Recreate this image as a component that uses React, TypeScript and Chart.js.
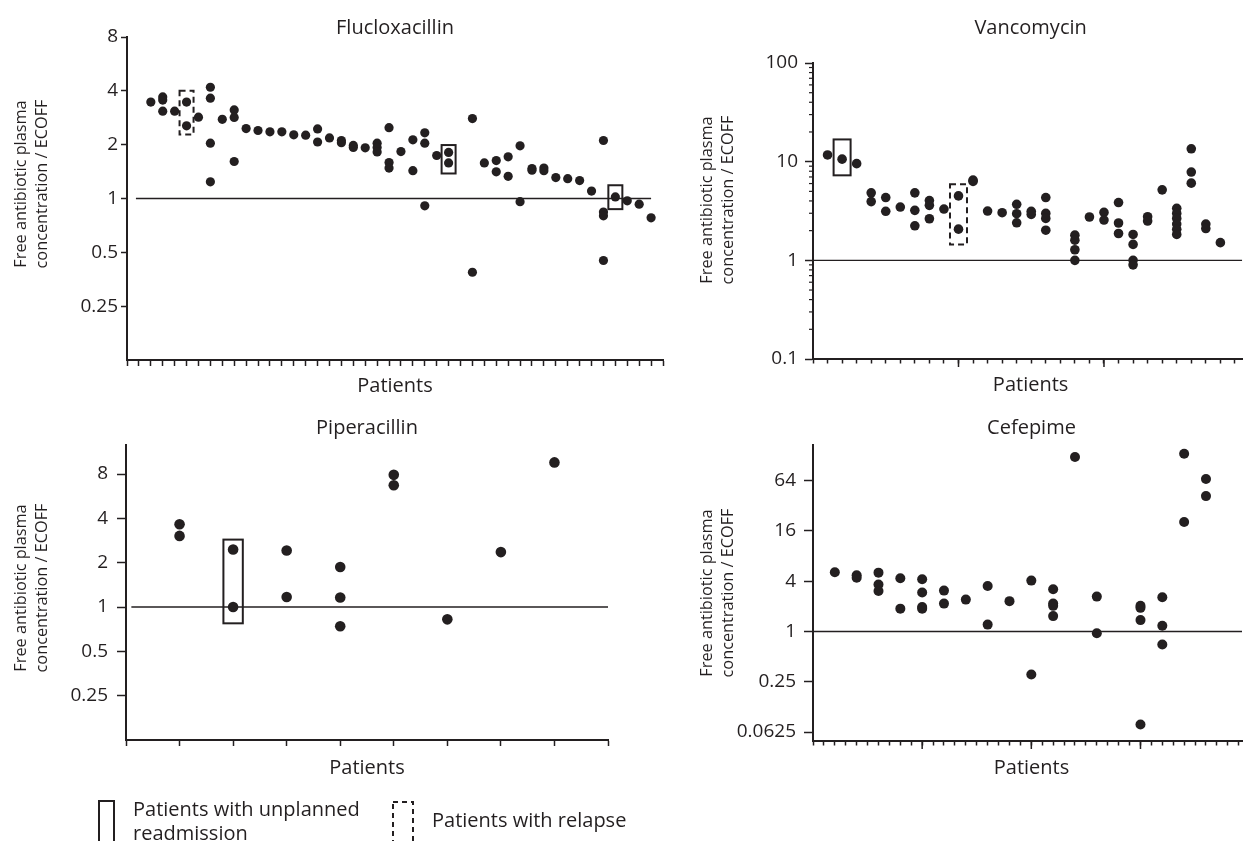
import React, { useEffect, useRef } from "react";
import { Chart, registerables } from "chart.js";

Chart.register(...registerables);

const FONT = "'Open Sans', 'Noto Sans', sans-serif";
const INK = "#231f20";

const Y_TITLE = ["Free antibiotic plasma", "concentration / ECOFF"];
const X_TITLE = "Patients";
const LEGEND_READMISSION = ["Patients with unplanned", "readmission"];
const LEGEND_RELAPSE = "Patients with relapse";

// ---------------- Flucloxacillin ----------------
const flucloxPatients = [
  2, 3, 4, 5, 6, 7, 8, 9, 10, 11, 12, 13, 14, 15, 16, 17, 18, 19, 20, 21, 22, 23, 24, 25, 26, 27,
  29, 30, 31, 32, 33, 34, 35, 36, 37, 38, 39, 40, 41, 42, 43, 44,
];
const flucloxValues = [
  [3.46], [3.7, 3.55, 3.08], [3.08], [3.46, 2.55], [2.85], [4.19, 3.64, 2.04, 1.24], [2.77],
  [3.13, 2.84, 1.61], [2.46], [2.4], [2.36], [2.36], [2.27], [2.26], [2.45, 2.07], [2.18],
  [2.11, 2.05], [1.98, 1.93], [1.92], [2.04, 1.93, 1.82], [2.49, 1.59, 1.48], [1.83], [2.13, 1.43],
  [2.33, 2.04, 0.91], [1.74], [1.81, 1.58],
  [2.8, 0.387], [1.58], [1.63, 1.41], [1.71, 1.33], [1.97, 0.96], [1.47, 1.44], [1.48, 1.43],
  [1.31], [1.29], [1.26], [1.1], [2.11, 0.84, 0.8, 0.45], [1.02], [0.97], [0.93], [0.78],
];
const flucloxTicks = [0.25, 0.5, 1, 2, 4, 8];
const flucloxReadmission = [
  { patient: 27, low: 1.38, high: 1.99 },
  { patient: 41, low: 0.872, high: 1.186 },
];
const flucloxRelapse = [{ patient: 5, low: 2.28, high: 4.0 }];

// ---------------- Vancomycin ----------------
const vancoPatients = [
  1, 2, 3, 4, 5, 6, 7, 8, 9, 10, 11, 12, 13, 14, 15, 16, 18, 19, 20, 21, 22, 23, 24, 25, 26, 27, 28,
];
const vancoValues = [
  [11.7], [10.6], [9.55], [4.83, 3.94], [4.33, 3.14], [3.47], [4.83, 3.21, 2.24],
  [4.03, 3.61, 2.64], [3.31], [4.5, 2.07], [6.5, 6.3], [3.16], [3.04], [3.7, 2.97, 2.4],
  [3.14, 2.92], [4.33, 2.99, 2.66, 2.02], [1.8, 1.6, 1.28, 1.0], [2.75], [3.06, 2.56],
  [3.85, 2.39, 1.87], [1.83, 1.45, 1.0, 0.9], [2.77, 2.5], [5.18],
  [3.37, 2.99, 2.66, 2.33, 2.06, 1.83], [13.5, 7.85, 6.06], [2.33, 2.1], [1.51],
];
const vancoTicks = [0.1, 1, 10, 100];
const vancoMinorTicks = [
  0.2, 0.3, 0.4, 0.5, 0.6, 0.7, 0.8, 0.9,
  2, 3, 4, 5, 6, 7, 8, 9,
  20, 30, 40, 50, 60, 70, 80, 90,
];
const vancoLongTicks = [10, 20];
const vancoReadmission = [{ patient: 2, low: 7.27, high: 16.8 }];
const vancoRelapse = [{ patient: 10, low: 1.45, high: 5.89 }];

// ---------------- Piperacillin ----------------
const pipPatients = [1, 2, 3, 4, 5, 6, 7, 8];
const pipValues = [
  [3.65, 3.04], [2.46, 1.0], [2.42, 1.17], [1.87, 1.16, 0.74], [7.9, 6.72], [0.825], [2.36], [9.6],
];
const pipTicks = [0.25, 0.5, 1, 2, 4, 8];
const pipReadmission = [{ patient: 2, low: 0.775, high: 2.87 }];

// ---------------- Cefepime ----------------
const cefepimePatients = [2, 4, 6, 8, 10, 12, 14, 16, 18, 20, 22, 24, 26, 30, 32, 34, 36];
const cefepimeValues = [
  [5.12], [4.72, 4.4], [5.07, 3.65, 3.06], [4.35, 1.88], [4.22, 2.93, 1.97, 1.88], [3.09, 2.16],
  [2.41], [3.51, 1.21], [2.31], [4.07, 0.306], [3.21, 2.16, 2.03, 1.53], [123], [2.62, 0.955],
  [2.03, 1.92, 1.37, 0.077], [2.57, 1.17, 0.7], [135, 20.5], [67.3, 41.9],
];
const cefepimeTicks = [0.0625, 0.25, 1, 4, 16, 64];
const cefepimeLongTicks = [10, 20, 30];

type Mark = { patient: number; low: number; high: number };

function toPoints(patients: number[], values: number[][]) {
  const pts: { x: number; y: number }[] = [];
  patients.forEach((p, i) => values[i].forEach((v) => pts.push({ x: p, y: v })));
  return pts;
}

interface PanelCfg {
  key: string;
  left: number; top: number; width: number; height: number;
  title: string;
  yAxisWidth: number; padTop: number; padRight: number; xAxisHeight: number;
  xMax: number; yMin: number; yMax: number; yTicks: number[];
  yTickLen: number; yTickPad: number; xTickLen: number; longLen: number;
  points: { x: number; y: number }[]; radius: number;
  refFrom: number; refTo: number;
  readmission: Mark[]; relapse: Mark[]; boxHalf: number;
  longTicks: number[]; minorY: number[];
  yTitleX: number; yTitleCy: number; titleDx: number; titleBaseline: number; xTitleDy: number;
  legend: boolean;
}

const panels: PanelCfg[] = [
  {
    key: "fluclox", left: 0, top: 0, width: 680, height: 400, title: "Flucloxacillin",
    yAxisWidth: 127, padTop: 37, padRight: 17, xAxisHeight: 40,
    xMax: 45, yMin: 0.125, yMax: 8, yTicks: flucloxTicks,
    yTickLen: 6, yTickPad: 3, xTickLen: 6, longLen: 8,
    points: toPoints(flucloxPatients, flucloxValues), radius: 4.6,
    refFrom: 0.75, refTo: 44,
    readmission: flucloxReadmission, relapse: flucloxRelapse, boxHalf: 7,
    longTicks: [], minorY: [],
    yTitleX: 21.7, yTitleCy: 184, titleDx: 0, titleBaseline: 34, xTitleDy: 32, legend: false,
  },
  {
    key: "vanco", left: 690, top: 0, width: 557, height: 400, title: "Vancomycin",
    yAxisWidth: 123, padTop: 63, padRight: 1, xAxisHeight: 41,
    xMax: 29.5, yMin: 0.1, yMax: 100, yTicks: vancoTicks,
    yTickLen: 8, yTickPad: 7, xTickLen: 4.5, longLen: 8,
    points: toPoints(vancoPatients, vancoValues), radius: 4.8,
    refFrom: 0, refTo: 29.5,
    readmission: vancoReadmission, relapse: vancoRelapse, boxHalf: 8.5,
    longTicks: vancoLongTicks, minorY: vancoMinorTicks,
    yTitleX: 17.7, yTitleCy: 200, titleDx: 3, titleBaseline: 34, xTitleDy: 32, legend: false,
  },
  {
    key: "pip", left: 0, top: 400, width: 680, height: 441, title: "Piperacillin",
    yAxisWidth: 126, padTop: 45, padRight: 72, xAxisHeight: 101,
    xMax: 9, yMin: 0.125, yMax: 12.6, yTicks: pipTicks,
    yTickLen: 9, yTickPad: 9, xTickLen: 6, longLen: 8,
    points: toPoints(pipPatients, pipValues), radius: 5.3,
    refFrom: 0.1, refTo: 9,
    readmission: pipReadmission, relapse: [], boxHalf: 9.7,
    longTicks: [], minorY: [],
    yTitleX: 21.7, yTitleCy: 188, titleDx: 0, titleBaseline: 34, xTitleDy: 34, legend: true,
  },
  {
    key: "cefepime", left: 690, top: 400, width: 557, height: 400, title: "Cefepime",
    yAxisWidth: 123, padTop: 45, padRight: 1, xAxisHeight: 59,
    xMax: 39.3, yMin: 0.0488, yMax: 171.5, yTicks: cefepimeTicks,
    yTickLen: 9, yTickPad: 8, xTickLen: 4.5, longLen: 8,
    points: toPoints(cefepimePatients, cefepimeValues), radius: 5,
    refFrom: 0, refTo: 39.3,
    readmission: [], relapse: [], boxHalf: 8,
    longTicks: cefepimeLongTicks, minorY: [],
    yTitleX: 17.7, yTitleCy: 193, titleDx: 4, titleBaseline: 34, xTitleDy: 33, legend: false,
  },
];

function makeDecor(cfg: PanelCfg) {
  return {
    id: "decor_" + cfg.key,
    afterDraw(chart: any) {
      const { ctx, chartArea: ca } = chart;
      const xs = chart.scales.x;
      const ys = chart.scales.y;
      ctx.save();
      ctx.fillStyle = INK;
      ctx.strokeStyle = INK;

      const cx = (ca.left + ca.right) / 2 + cfg.titleDx;
      ctx.font = `20px ${FONT}`;
      ctx.textAlign = "center";
      ctx.textBaseline = "alphabetic";
      ctx.fillText(cfg.title, cx, cfg.titleBaseline);
      ctx.fillText(X_TITLE, cx, ca.bottom + cfg.xTitleDy);

      ctx.font = `16.3px ${FONT}`;
      ctx.textBaseline = "middle";
      Y_TITLE.forEach((line, i) => {
        ctx.save();
        ctx.translate(cfg.yTitleX + i * 20.6, cfg.yTitleCy);
        ctx.rotate(-Math.PI / 2);
        ctx.fillText(line, 0, 0);
        ctx.restore();
      });

      ctx.lineWidth = 1.2;
      for (const v of cfg.minorY) {
        const y = ys.getPixelForValue(v);
        ctx.beginPath();
        ctx.moveTo(ca.left - 4, y);
        ctx.lineTo(ca.left, y);
        ctx.stroke();
      }
      ctx.lineWidth = 1.5;
      for (const v of cfg.longTicks) {
        const x = xs.getPixelForValue(v);
        ctx.beginPath();
        ctx.moveTo(x, ca.bottom);
        ctx.lineTo(x, ca.bottom + cfg.longLen);
        ctx.stroke();
      }

      const drawMark = (m: Mark, dashed: boolean) => {
        const xc = xs.getPixelForValue(m.patient);
        const y1 = ys.getPixelForValue(m.high);
        const y2 = ys.getPixelForValue(m.low);
        ctx.lineWidth = 2;
        ctx.setLineDash(dashed ? [6, 4] : []);
        ctx.strokeRect(xc - cfg.boxHalf, y1, cfg.boxHalf * 2, y2 - y1);
      };
      cfg.readmission.forEach((m) => drawMark(m, false));
      cfg.relapse.forEach((m) => drawMark(m, true));
      ctx.setLineDash([]);

      if (cfg.legend) {
        ctx.lineWidth = 2;
        ctx.strokeRect(99, 401, 15, 60);
        ctx.setLineDash([5, 4]);
        ctx.strokeRect(393, 402, 20, 60);
        ctx.setLineDash([]);
        ctx.font = `20px ${FONT}`;
        ctx.textAlign = "left";
        ctx.textBaseline = "alphabetic";
        ctx.fillText(LEGEND_READMISSION[0], 133, 416);
        ctx.fillText(LEGEND_READMISSION[1], 133, 440);
        ctx.fillText(LEGEND_RELAPSE, 432, 427);
      }
      ctx.restore();
    },
  };
}

function PanelChart({ cfg }: { cfg: PanelCfg }) {
  const ref = useRef<HTMLCanvasElement>(null);
  useEffect(() => {
    const canvas = ref.current;
    if (!canvas) return;
    const xTickValues = Array.from({ length: Math.floor(cfg.xMax) + 1 }, (_, i) => i);
    const chart = new Chart(canvas, {
      type: "scatter",
      data: {
        datasets: [
          {
            type: "scatter",
            data: cfg.points,
            pointRadius: cfg.radius,
            pointHoverRadius: cfg.radius,
            pointBackgroundColor: INK,
            pointBorderWidth: 0,
            borderWidth: 0,
          } as any,
          {
            type: "line",
            data: [
              { x: cfg.refFrom, y: 1 },
              { x: cfg.refTo, y: 1 },
            ],
            borderColor: INK,
            borderWidth: 1.3,
            pointRadius: 0,
            fill: false,
            tension: 0,
          } as any,
        ],
      },
      options: {
        responsive: false,
        maintainAspectRatio: false,
        animation: false,
        events: [],
        layout: { padding: { left: 0, top: cfg.padTop, right: cfg.padRight, bottom: 0 } },
        plugins: { legend: { display: false }, tooltip: { enabled: false }, title: { display: false } },
        scales: {
          x: {
            type: "linear",
            min: 0,
            max: cfg.xMax,
            bounds: "data",
            afterBuildTicks: (s: any) => {
              s.ticks = xTickValues.map((v) => ({ value: v }));
            },
            afterFit: (s: any) => {
              s.height = cfg.xAxisHeight;
            },
            ticks: { callback: () => "", autoSkip: false, padding: 0 },
            grid: {
              drawOnChartArea: false,
              drawTicks: true,
              tickLength: cfg.xTickLen,
              tickColor: INK,
              tickWidth: 1.5,
            },
            border: { display: true, color: INK, width: 2 },
          },
          y: {
            type: "logarithmic",
            min: cfg.yMin,
            max: cfg.yMax,
            bounds: "data",
            afterBuildTicks: (s: any) => {
              s.ticks = cfg.yTicks.map((v) => ({ value: v }));
            },
            afterFit: (s: any) => {
              s.width = cfg.yAxisWidth;
            },
            ticks: {
              callback: (v: any) => String(v),
              autoSkip: false,
              padding: cfg.yTickPad,
              color: INK,
              font: { family: FONT, size: 19 },
            },
            grid: {
              drawOnChartArea: false,
              drawTicks: true,
              tickLength: cfg.yTickLen,
              tickColor: INK,
              tickWidth: 1.5,
            },
            border: { display: true, color: INK, width: 2 },
          },
        },
      } as any,
      plugins: [makeDecor(cfg)],
    });
    return () => chart.destroy();
  }, [cfg]);
  return (
    <canvas
      ref={ref}
      width={cfg.width}
      height={cfg.height}
      style={{ position: "absolute", left: cfg.left, top: cfg.top, width: cfg.width, height: cfg.height }}
    />
  );
}

export default function App() {
  return (
    <div style={{ position: "absolute", left: 0, top: 0, width: 1247, height: 841, background: "#fff", overflow: "hidden" }}>
      {panels.map((p) => (
        <PanelChart key={p.key} cfg={p} />
      ))}
    </div>
  );
}
